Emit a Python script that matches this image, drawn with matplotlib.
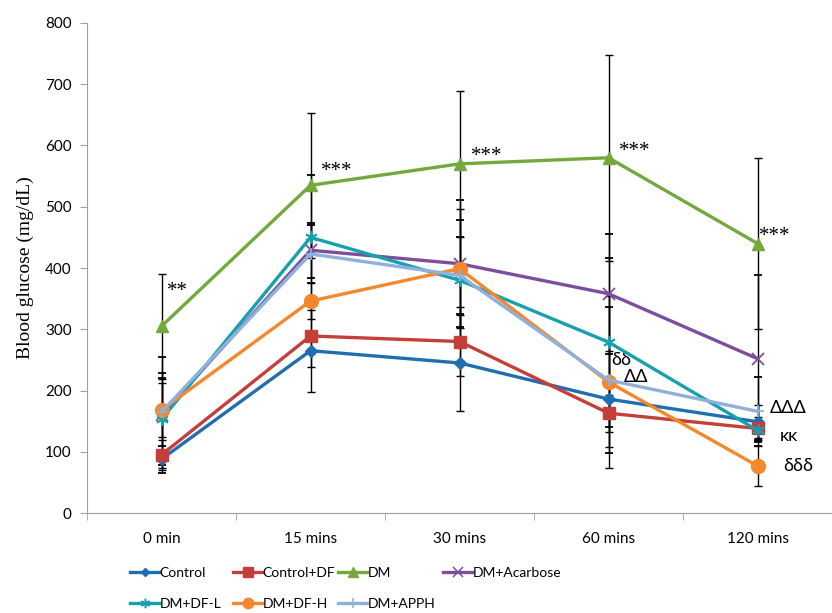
import numpy as np
import matplotlib
matplotlib.use('Agg')
import matplotlib.pyplot as plt
from matplotlib.lines import Line2D

# data
times = ['0 min', '15 mins', '30 mins', '60 mins', '120 mins']
series = ['Control', 'Control+DF', 'DM', 'DM+Acarbose', 'DM+DF-L', 'DM+DF-H', 'DM+APPH']

control = [88, 265, 245, 186, 149]
control_df = [95, 289, 280, 163, 138]
dm = [305, 535, 570, 580, 440]
dm_acarbose = [160, 429, 407, 358, 252]
dm_df_l = [153, 450, 380, 279, 135]
dm_df_h = [168, 346, 399, 214, 77]
dm_apph = [165, 423, 388, 217, 166]

err_control = [15, 67, 79, 78, 27]
err_control_df = [25, 50, 56, 30, 18]
err_dm = [86, 118, 119, 168, 140]
err_dm_acarbose = [95, 45, 104, 98, 136]
err_dm_df_l = [75, 102, 98, 138, 15]
err_dm_df_h = [44, 30, 97, 141, 33]
err_dm_apph = [55, 48, 63, 119, 56]

values = [control, control_df, dm, dm_acarbose, dm_df_l, dm_df_h, dm_apph]
errors = [err_control, err_control_df, err_dm, err_dm_acarbose, err_dm_df_l, err_dm_df_h, err_dm_apph]

colors = ['#1F6FB0', '#C43E3A', '#73A83C', '#7B4F9E', '#17A0AE', '#F5872D', '#8EB0DA']
markers = ['D', 's', '^', 'x', (6, 2, 0), 'o', '+']
msizes = [6, 9, 9, 9, 9, 10, 9]

fig = plt.figure(figsize=(8.32, 6.13), dpi=100)
ax = fig.add_axes([0.1046, 0.1631, 0.8954, 0.7994])

x = np.arange(len(times))
handles = []
for i, name in enumerate(series):
    thin = i in (3, 4, 6)
    ax.errorbar(x, values[i], yerr=errors[i], color=colors[i], lw=2.4,
                marker=markers[i], ms=msizes[i], mew=1.3 if thin else 1,
                ecolor='black', elinewidth=1, capsize=3, capthick=1, zorder=3)
    handles.append(Line2D([], [], color=colors[i], lw=2.4, marker=markers[i],
                          ms=msizes[i] * 0.75, mew=1.1 if thin else 1))

ax.set_xlim(-0.5, 4.5)
ax.set_ylim(0, 800)
ax.set_yticks(range(0, 801, 100))
ax.set_xticks(x)
ax.set_xticklabels(times)
ax.set_xticks(np.arange(-0.5, 4.6, 1), minor=True)
ax.tick_params(axis='x', which='major', length=0, pad=14)
ax.tick_params(axis='x', which='minor', length=5, color='#A0A0A0')
ax.tick_params(axis='y', length=5, color='#A0A0A0', pad=6)
for lab in ax.get_xticklabels() + ax.get_yticklabels():
    lab.set_fontfamily('Lato')
    lab.set_fontsize(11)
ax.spines['top'].set_visible(False)
ax.spines['right'].set_visible(False)
ax.spines['left'].set_color('#A0A0A0')
ax.spines['bottom'].set_color('#A0A0A0')
ax.set_ylabel('Blood glucose (mg/dL)', fontfamily='Liberation Serif', fontsize=14, labelpad=8)

# significance marks, placed next to category centres
star = dict(fontfamily='Liberation Serif', fontsize=15, va='center', ha='left')
ax.text(0 + 0.04, 362, '**', **star)
ax.text(1 + 0.07, 558, '***', **star)
ax.text(2 + 0.08, 582, '***', **star)
ax.text(3 + 0.07, 590, '***', **star)
ax.text(4 + 0.01, 452, '***', **star)
sym = dict(fontfamily='Lato', fontsize=13, va='center', ha='left')
ax.text(3 + 0.02, 250, 'δδ', **sym)
ax.text(3 + 0.10, 222, 'ΔΔ', **sym)
ax.text(4 + 0.08, 171, 'ΔΔΔ', **sym)
ax.text(4 + 0.15, 126, 'κκ', **sym)
ax.text(4 + 0.17, 77, 'δδδ', **sym)

# legend entries laid out like the reference (two rows)
leg_pos = [(130, 573), (233, 573), (338, 573), (443, 573),
           (130, 604), (233, 604), (338, 604)]
W, H = 832, 613
for i, (px, py) in enumerate(leg_pos):
    fig.legend([handles[i]], [series[i]], loc='center left',
               bbox_to_anchor=(px / W, 1 - py / H), frameon=False,
               prop={'family': 'Lato', 'size': 10}, handlelength=2.1,
               handletextpad=0.05, borderpad=0, borderaxespad=0)

fig.savefig('out.png', dpi=100)
